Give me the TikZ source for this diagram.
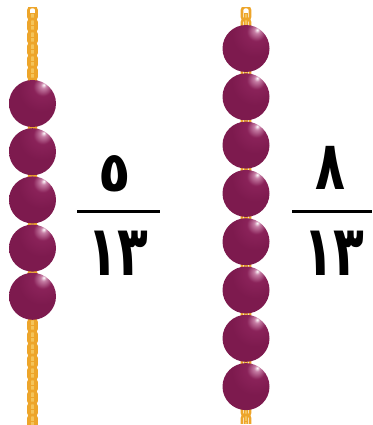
\documentclass[tikz,border=0pt]{standalone}
\usepackage{fontspec}
\newfontfamily\arabicdigits[Script=Arabic]{DejaVu Sans}
\definecolor{beadbase}{HTML}{7D1A4E}
\definecolor{beadmid}{HTML}{8A2259}
\definecolor{beadglow}{HTML}{C77FA6}
\definecolor{chaingold}{HTML}{EDA52A}
\definecolor{chainlight}{HTML}{F4C45A}
\pgfdeclareradialshading{bead}{\pgfpoint{12bp}{20bp}}{%
  color(0bp)=(white); color(3bp)=(beadglow); color(10bp)=(beadmid);
  color(24bp)=(beadbase); color(60bp)=(beadbase); color(100bp)=(beadbase)}
\tikzset{
  beadball/.style={circle, minimum size=47pt, inner sep=0pt, shading=bead},
  facelink/.style={draw=chaingold, line width=2.6pt, rounded corners=3pt},
  edgelink/.style={fill=chainlight, draw=chaingold, line width=0.8pt},
  digit/.style={inner sep=0pt, text=black},
  barline/.style={line width=3pt, black},
}
% bold digits at size #1, narrowed horizontally by factor #2
\newcommand\numeral[3]{\scalebox{#2}[1]{\arabicdigits\bfseries\fontsize{#1}{#1}\selectfont #3}}
% a vertical gold chain centred at x=#1 running from y=#2 to y=#3
\newcommand\goldchain[3]{%
  \begin{scope}
    \clip (#1-7,#2) rectangle (#1+7,#3);
    \foreach \k in {0,...,40}{%
      \pgfmathsetmacro\yy{#2+\k*12}
      \ifdim\yy pt<#3pt
        \draw[facelink] (#1-4,\yy-1) rectangle (#1+4,\yy+12);
        \draw[edgelink] (#1-1.8,\yy+5) rectangle (#1+1.8,\yy+18);
      \fi
    }
  \end{scope}}
\begin{document}
\begin{tikzpicture}[x=1pt,y=-1pt]
  \useasboundingbox (0,0) rectangle (372,425);
  % chains behind the beads
  \goldchain{32.5}{8}{425}
  \goldchain{246}{8}{423}
  % left string: five beads
  \foreach \i in {1,...,5}{
    \node[beadball] (L\i) at (32.5,{103.5+(\i-1)*48.2}) {};
  }
  % right string: eight beads
  \foreach \i in {1,...,8}{
    \node[beadball] (R\i) at (246,{48.5+(\i-1)*48.3}) {};
  }
  % fractions
  \node[digit] (ln) at (115,174) {\numeral{56}{0.95}{٥}};
  \node[digit] (ld) at (118,253) {\numeral{70}{0.72}{١٣}};
  \coordinate (la) at (77,211);
  \coordinate (lb) at (160,211);
  \draw[barline] (la) -- (lb);
  \node[digit] (rn) at (330,168) {\numeral{68}{0.72}{٨}};
  \node[digit] (rd) at (334,253) {\numeral{70}{0.72}{١٣}};
  \coordinate (ra) at (292,211);
  \coordinate (rb) at (372,211);
  \draw[barline] (ra) -- (rb);
\end{tikzpicture}
\end{document}
